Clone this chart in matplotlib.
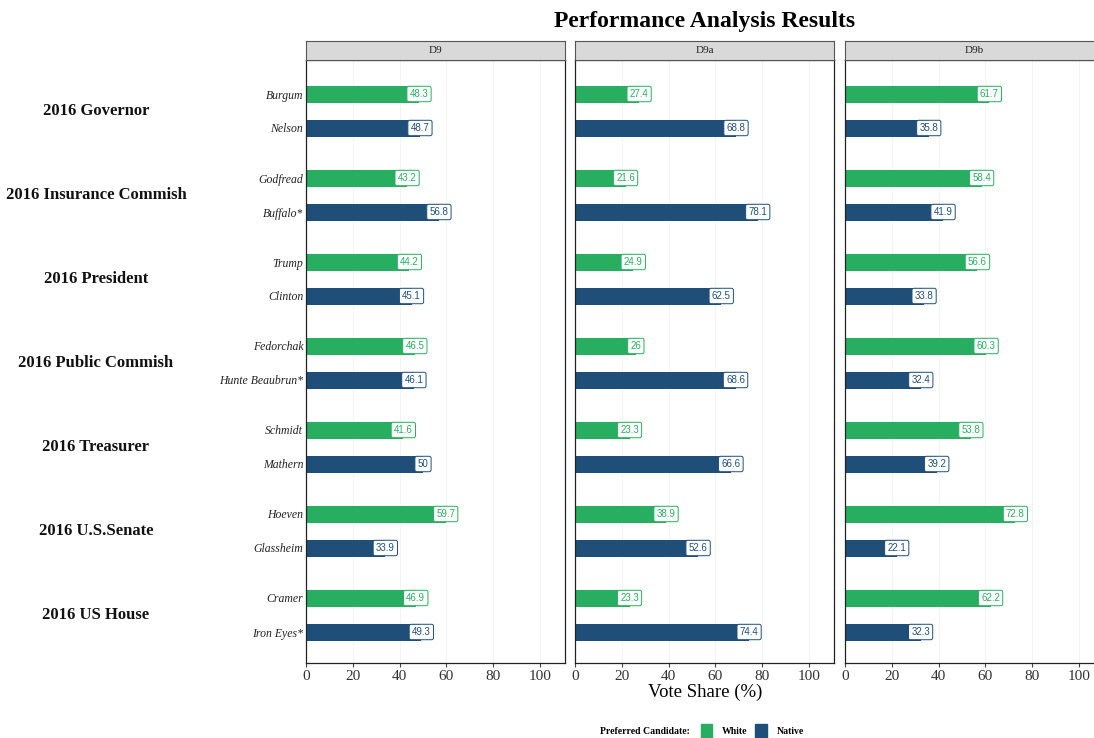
import matplotlib
matplotlib.use("Agg")
import matplotlib.pyplot as plt
from matplotlib.patches import Patch
import numpy as np

# Datos
races = ['2016 Governor', '2016 Insurance Commish', '2016 President',
         '2016 Public Commish', '2016 Treasurer', '2016 U.S.Senate', '2016 US House']
white_cands = ['Burgum', 'Godfread', 'Trump', 'Fedorchak', 'Schmidt', 'Hoeven', 'Cramer']
native_cands = ['Nelson', 'Buffalo*', 'Clinton', 'Hunte Beaubrun*', 'Mathern', 'Glassheim', 'Iron Eyes*']
districts = ['D9', 'D9a', 'D9b']

white_share = {
    'D9':  [48.3, 43.2, 44.2, 46.5, 41.6, 59.7, 46.9],
    'D9a': [27.4, 21.6, 24.9, 26, 23.3, 38.9, 23.3],
    'D9b': [61.7, 58.4, 56.6, 60.3, 53.8, 72.8, 62.2],
}
native_share = {
    'D9':  [48.7, 56.8, 45.1, 46.1, 50, 33.9, 49.3],
    'D9a': [68.8, 78.1, 62.5, 68.6, 66.6, 52.6, 74.4],
    'D9b': [35.8, 41.9, 33.8, 32.4, 39.2, 22.1, 32.3],
}

col_white = '#27ae60'
col_native = '#1f4e79'
serif = 'Liberation Serif'

W, H = 1094, 738
fig = plt.figure(figsize=(W / 100, H / 100), dpi=100)

# Posiciones verticales (grupo por carrera, par de candidatos)
gap = 84 / 34
grupos = np.arange(len(races))
y_white = grupos * gap
y_native = grupos * gap + 1

panel_left = [306, 575, 845]
panel_w = 259
top, bottom = 60, 663
strip_h = 19

for j, d in enumerate(districts):
    ax = fig.add_axes([panel_left[j] / W, 1 - bottom / H, panel_w / W, (bottom - top) / H])
    ax.barh(y_white, white_share[d], height=0.5, color=col_white, zorder=2)
    ax.barh(y_native, native_share[d], height=0.5, color=col_native, zorder=2)
    for yy, v in zip(y_white, white_share[d]):
        ax.text(v, yy, f'{v:g}', ha='center', va='center', fontsize=7, color=col_white,
                family='Liberation Sans', zorder=3,
                bbox=dict(boxstyle='round,pad=0.28,rounding_size=0.2', fc='white', ec=col_white, lw=0.7))
    for yy, v in zip(y_native, native_share[d]):
        ax.text(v, yy, f'{v:g}', ha='center', va='center', fontsize=7, color=col_native,
                family='Liberation Sans', zorder=3,
                bbox=dict(boxstyle='round,pad=0.28,rounding_size=0.2', fc='white', ec=col_native, lw=0.7))
    ax.set_xlim(0, panel_w / 2.34)
    ax.set_ylim((bottom - 94) / 34, -(94 - top) / 34)
    ax.set_xticks([0, 20, 40, 60, 80, 100])
    ax.tick_params(axis='x', labelsize=11, length=3, color='#444444', labelcolor='#333333', pad=2)
    for lab in ax.get_xticklabels():
        lab.set_family(serif)
    ax.grid(axis='x', color='#f2f2f2', lw=0.6, zorder=0)
    ax.set_axisbelow(True)
    for s in ax.spines.values():
        s.set_color('#222222')
        s.set_linewidth(0.9)
    if j == 0:
        ys = np.concatenate([y_white, y_native])
        nombres = white_cands + native_cands
        ax.set_yticks(ys)
        ax.set_yticklabels(nombres, fontsize=8.5, family=serif, style='italic', color='#222222')
        ax.tick_params(axis='y', length=0, pad=2)
        for g, r in enumerate(races):
            ax.text((96 - 306) / panel_w, 1 - (y_white[g] + 0.5 + (94 - top) / 34) / ((bottom - top) / 34),
                    r, transform=ax.transAxes, ha='center', va='center',
                    fontsize=12, fontweight='bold', family=serif, color='#111111')
    else:
        ax.set_yticks([])

    # Tira gris con el nombre del distrito
    sax = fig.add_axes([panel_left[j] / W, 1 - top / H, panel_w / W, strip_h / H])
    sax.set_facecolor('#d9d9d9')
    sax.set_xticks([])
    sax.set_yticks([])
    for s in sax.spines.values():
        s.set_color('#555555')
        s.set_linewidth(0.8)
    sax.text(0.5, 0.5, d, ha='center', va='center', fontsize=8, family=serif, color='#222222')

fig.text(705 / W, 1 - 22 / H, 'Performance Analysis Results', ha='center', va='center',
         fontsize=17, fontweight='bold', family=serif)
fig.text(705 / W, 1 - 692 / H, 'Vote Share (%)', ha='center', va='center',
         fontsize=13.5, family=serif)

# Leyenda
fig.text(690 / W, 1 - 731 / H, 'Preferred Candidate:', ha='right', va='center',
         fontsize=7, fontweight='bold', family=serif)
handles = [Patch(color=col_white, label='White'), Patch(color=col_native, label='Native')]
fig.legend(handles=handles, loc='center left', bbox_to_anchor=(692 / W, 1 - 731 / H), ncol=2,
           frameon=False, handlelength=1.2, handleheight=1.8, columnspacing=0.8,
           handletextpad=1.0, prop=dict(family=serif, size=7, weight='bold'))

fig.savefig('out.png', dpi=100)
